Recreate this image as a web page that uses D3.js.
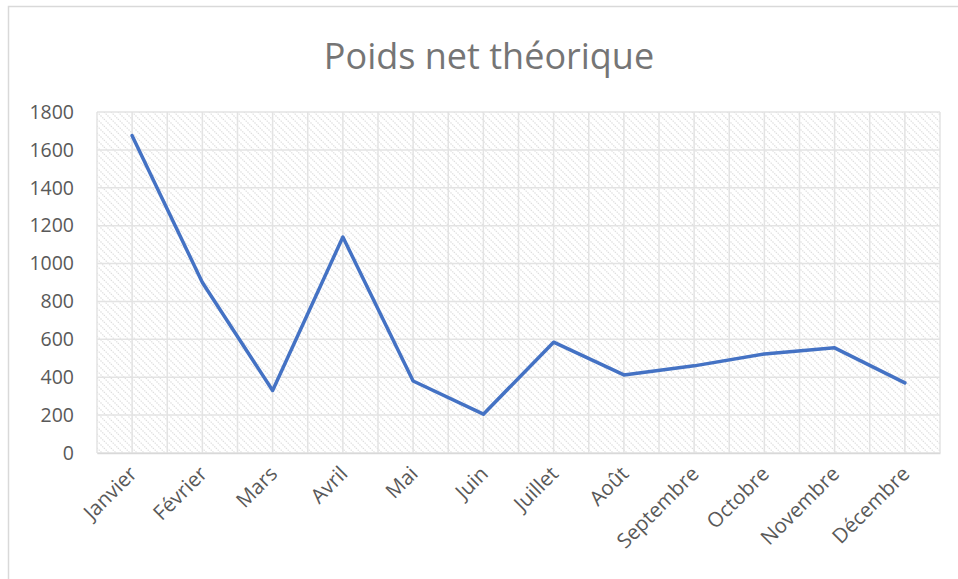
<!DOCTYPE html>
<html>
<head>
<meta charset="utf-8">
<script src="https://cdn.jsdelivr.net/npm/d3@7"></script>
<style>
  body { margin: 0; background: #fff; }
  svg { display: block; font-family: "Open Sans", sans-serif; }
</style>
</head>
<body>
<div id="chart"></div>
<script>
const months = ["Janvier", "Février", "Mars", "Avril", "Mai", "Juin", "Juillet", "Août", "Septembre", "Octobre", "Novembre", "Décembre"];
const poids = [1675, 900, 330, 1140, 380, 205, 585, 412, 460, 523, 555, 370];
const yTicks = [0, 200, 400, 600, 800, 1000, 1200, 1400, 1600, 1800];

const W = 958, H = 579;
const margin = { top: 112, right: 18, bottom: 126, left: 97 };
const width = W - margin.left - margin.right;
const height = H - margin.top - margin.bottom;

const root = d3.select("#chart").append("svg")
    .attr("width", W)
    .attr("height", H);

// hatch pattern for the plot area
const pat = root.append("defs").append("pattern")
    .attr("id", "hatch")
    .attr("patternUnits", "userSpaceOnUse")
    .attr("width", 7)
    .attr("height", 7);
pat.append("path")
    .attr("d", "M-2,-2 L9,9 M-2,5 L2,9 M5,-2 L9,2")
    .attr("stroke", "#dcdcdc")
    .attr("stroke-width", 1.2)
    .attr("stroke-dasharray", "1.4,1.2");

// outer chart border
root.append("rect")
    .attr("x", 8.5)
    .attr("y", 6.5)
    .attr("width", W + 10)
    .attr("height", H + 10)
    .attr("fill", "none")
    .attr("stroke", "#d9d9d9")
    .attr("stroke-width", 1.5);

root.append("text")
    .attr("x", 489)
    .attr("y", 69)
    .attr("text-anchor", "middle")
    .style("font-size", "36px")
    .style("fill", "#757575")
    .text("Poids net théorique");

const svg = root.append("g")
    .attr("transform", `translate(${margin.left},${margin.top})`);

const x = d3.scaleBand()
    .domain(months)
    .range([0, width]);

const y = d3.scaleLinear()
    .domain([0, 1800])
    .range([height, 0]);

svg.append("rect")
    .attr("width", width)
    .attr("height", height)
    .attr("fill", "url(#hatch)");

// vertical grid at category edges and centres
const vLines = [];
months.forEach(m => { vLines.push(x(m)); vLines.push(x(m) + x.bandwidth() / 2); });
vLines.push(width);

svg.append("g")
    .selectAll("line")
    .data(vLines)
    .join("line")
    .attr("x1", d => d).attr("x2", d => d)
    .attr("y1", 0).attr("y2", height)
    .attr("stroke", "#e3e3e3")
    .attr("stroke-width", 1.5);

svg.append("g")
    .selectAll("line")
    .data(yTicks)
    .join("line")
    .attr("x1", 0).attr("x2", width)
    .attr("y1", d => y(d)).attr("y2", d => y(d))
    .attr("stroke", "#e3e3e3")
    .attr("stroke-width", 1.5);

// y axis labels
const yAxis = svg.append("g")
    .call(d3.axisLeft(y).tickValues(yTicks).tickFormat(d3.format("d")).tickSize(0).tickPadding(23));
yAxis.select(".domain").remove();
yAxis.selectAll("text")
    .style("font-size", "19.5px")
    .style("font-family", "Open Sans, sans-serif")
    .style("fill", "#595959");

// x axis
const xAxis = svg.append("g")
    .attr("transform", `translate(0,${height})`)
    .call(d3.axisBottom(x).tickSize(0).tickPadding(0));
xAxis.select(".domain")
    .attr("stroke", "#d9d9d9")
    .attr("stroke-width", 1.5);
xAxis.selectAll("text")
    .attr("text-anchor", "end")
    .attr("dy", 0)
    .attr("transform", "translate(6,22) rotate(-45)")
    .style("font-size", "20.5px")
    .style("font-family", "Open Sans, sans-serif")
    .style("fill", "#595959");

const line = d3.line()
    .x((d, i) => x(months[i]) + x.bandwidth() / 2)
    .y(d => y(d));

svg.append("path")
    .datum(poids)
    .attr("d", line)
    .attr("fill", "none")
    .attr("stroke", "#4472C4")
    .attr("stroke-width", 3.5)
    .attr("stroke-linejoin", "round")
    .attr("stroke-linecap", "round");
</script>
</body>
</html>
